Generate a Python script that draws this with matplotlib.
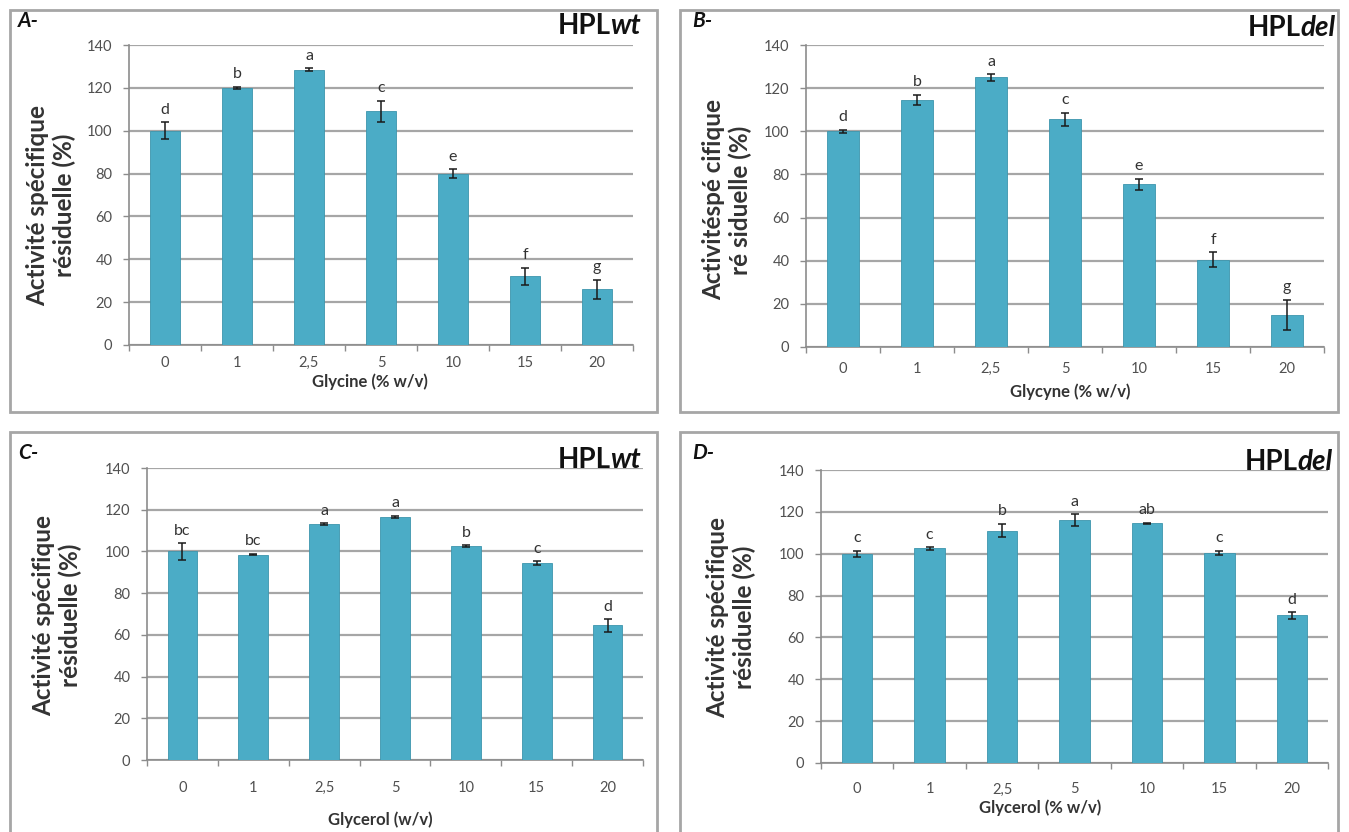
import matplotlib
matplotlib.use("Agg")
import matplotlib.pyplot as plt
from matplotlib.patches import Rectangle

plt.rcParams["font.family"] = ["Lato", "DejaVu Sans"]

W, H = 1349, 832
BAR_COLOR = "#4BACC6"
BAR_EDGE = "#3d95ad"
GRID_COLOR = "#a6a6a6"
AXIS_COLOR = "#8c8c8c"
BOX_COLOR = "#a6a6a6"
TICK_TEXT = "#505050"

categories = ["0", "1", "2,5", "5", "10", "15", "20"]

glycine_wt = [100, 120, 128.5, 109, 80, 32, 26]
glycine_wt_err = [4, 0.5, 0.7, 5, 2, 4, 4.5]
glycine_wt_letters = ["d", "b", "a", "c", "e", "f", "g"]

glycine_del = [100, 114.5, 125, 105.5, 75.5, 40.5, 15]
glycine_del_err = [0.6, 2.5, 1.5, 3.2, 2.5, 3.5, 7]
glycine_del_letters = ["d", "b", "a", "c", "e", "f", "g"]

glycerol_wt = [100, 98.5, 113, 116.5, 102.5, 94.5, 64.5]
glycerol_wt_err = [4, 0.4, 0.5, 0.6, 0.4, 0.8, 3]
glycerol_wt_letters = ["bc", "bc", "a", "a", "b", "c", "d"]

glycerol_del = [100, 102.5, 111, 116, 114.5, 100.5, 70.5]
glycerol_del_err = [1.5, 0.5, 3.2, 2.8, 0.3, 1, 1.5]
glycerol_del_letters = ["c", "c", "b", "a", "ab", "c", "d"]


def fx(px):
    return px / W


def fy(py):
    return 1 - py / H


fig = plt.figure(figsize=(W / 100, H / 100), dpi=100, facecolor="white")


def panel(box, ax_px, values, errs, letters, tag, strain, xlabel, xlabel_pos,
          ylabel, ylabel_pos, tag_pos, strain_pos, tick_pad):
    bx0, by0, bx1, by1 = box
    fig.patches.append(Rectangle((fx(bx0), fy(by1)), fx(bx1 - bx0), (by1 - by0) / H,
                                 transform=fig.transFigure, fill=False,
                                 edgecolor=BOX_COLOR, linewidth=2))
    left, top, right, bottom = ax_px
    ax = fig.add_axes([fx(left), fy(bottom), fx(right - left), (bottom - top) / H])
    xs = list(range(len(categories)))
    ax.bar(xs, values, width=0.42, color=BAR_COLOR, edgecolor=BAR_EDGE,
           linewidth=0.6, zorder=3)
    ax.errorbar(xs, values, yerr=errs, fmt="none", ecolor="#1a1a1a",
                elinewidth=1.1, capsize=3, capthick=1.1, zorder=4)
    for x, v, e, lab in zip(xs, values, errs, letters):
        ax.annotate(lab, (x, v + e), xytext=(0, 4), textcoords="offset points",
                    ha="center", va="bottom", fontsize=11.5, color="#333333")
    ax.set_xlim(-0.5, len(categories) - 0.5)
    ax.set_ylim(0, 140)
    ax.set_yticks(range(0, 141, 20))
    ax.set_xticks(xs)
    ax.set_xticklabels(categories)
    ax.set_xticks([i - 0.5 for i in range(len(categories) + 1)], minor=True)
    ax.tick_params(axis="x", which="major", length=0, pad=tick_pad,
                   labelsize=10.5, labelcolor=TICK_TEXT)
    ax.tick_params(axis="x", which="minor", length=4, color=AXIS_COLOR, width=1)
    ax.tick_params(axis="y", length=4, color=AXIS_COLOR, width=1, pad=8,
                   labelsize=10.5, labelcolor=TICK_TEXT)
    ax.yaxis.grid(True, color=GRID_COLOR, linewidth=1.6, zorder=0)
    ax.set_axisbelow(True)
    for s in ["top", "right"]:
        ax.spines[s].set_visible(False)
    for s in ["left", "bottom"]:
        ax.spines[s].set_color(AXIS_COLOR)
        ax.spines[s].set_linewidth(1.2)

    fig.text(fx(xlabel_pos[0]), fy(xlabel_pos[1]), xlabel, ha="center", va="center",
             fontsize=12, fontweight="bold", color="#333333")
    fig.text(fx(ylabel_pos[0]), fy(ylabel_pos[1]), ylabel, ha="center", va="center",
             rotation=90, fontsize=17.5, fontweight="bold", color="#333333",
             multialignment="center", linespacing=1.15)
    fig.text(fx(tag_pos[0]), fy(tag_pos[1]), tag, ha="left", va="center",
             fontsize=15, fontweight="bold", fontstyle="italic", color="#111111")
    suffix = fig.text(fx(strain_pos[0]), fy(strain_pos[1]), strain[1], ha="right",
                      va="center", fontsize=20, fontweight="bold",
                      fontstyle="italic", color="#111111")
    ax.annotate(strain[0], xy=(0, 0), xycoords=suffix, ha="right", va="bottom",
                fontsize=20, fontweight="bold", color="#111111",
                annotation_clip=False)
    return ax


panel((10, 10, 657, 412), (129, 45, 633, 345), glycine_wt, glycine_wt_err,
      glycine_wt_letters, "A-", ("HPL", "wt"), "Glycine (% w/v)", (370, 382),
      "Activité spécifique\nrésiduelle (%)", (51, 205), (18, 21), (641, 26), 8)

panel((680, 10, 1338, 412), (806, 45, 1324, 347), glycine_del, glycine_del_err,
      glycine_del_letters, "B-", ("HPL", "del"), "Glycyne (% w/v)", (1070, 392),
      "Activitéspé cifique\nré siduelle (%)", (727, 200), (692, 21), (1336, 28), 11)

panel((10, 432, 657, 834), (147, 468, 643, 760), glycerol_wt, glycerol_wt_err,
      glycerol_wt_letters, "C-", ("HPL", "wt"), "Glycerol (w/v)", (380, 820),
      "Activité spécifique\nrésiduelle (%)", (57, 615), (18, 453), (641, 460), 15)

panel((680, 432, 1338, 834), (821, 470, 1328, 763), glycerol_del, glycerol_del_err,
      glycerol_del_letters, "D-", ("HPL", "del"), "Glycerol (% w/v)", (1040, 808),
      "Activité spécifique\nrésiduelle (%)", (731, 617), (692, 453), (1333, 462), 14)

fig.savefig("out.png", dpi=100, facecolor="white")
